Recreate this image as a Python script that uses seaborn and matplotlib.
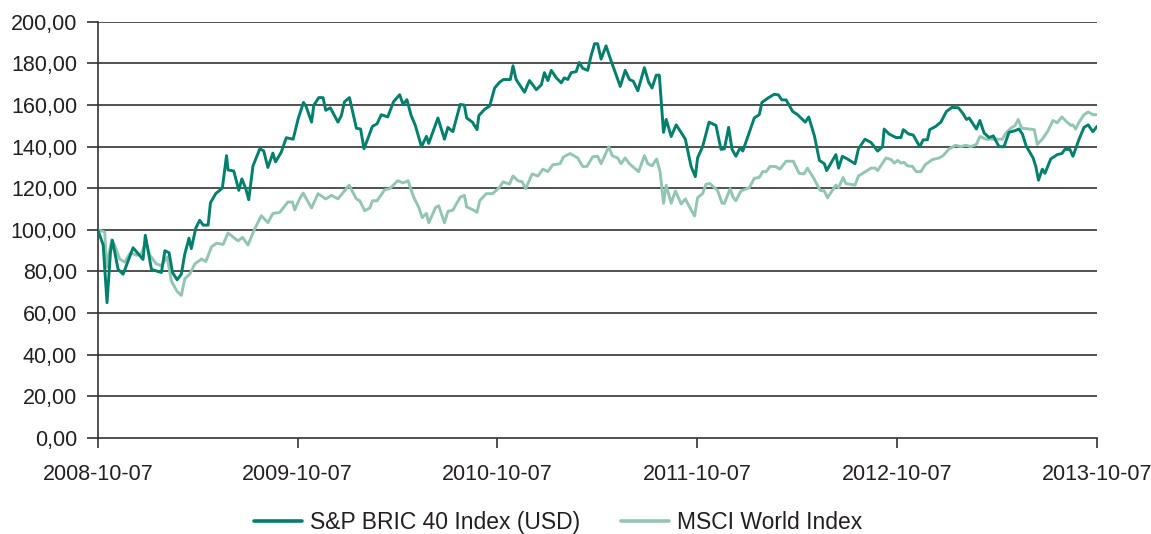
import numpy as np
import pandas as pd
import matplotlib
matplotlib.use("Agg")
import matplotlib.pyplot as plt
import seaborn as sns

START = "2008-10-07"
SERIES_NAMES = ["S&P BRIC 40 Index (USD)", "MSCI World Index"]

# weeks since 2008-10-07, and index values
bric_weeks = [0, 1.4, 2.4, 3.3, 3.8, 5.3, 6.6, 9.2, 11.8, 12.4, 14.0, 16.6, 17.5, 18.6, 19.5,
              20.7, 21.8, 22.7, 23.8, 24.4, 25.6, 26.6, 27.5, 28.8, 29.4, 30.8, 32.5, 33.6,
              34.0, 35.5, 36.8, 37.6, 38.6, 39.4, 40.5, 42.3, 43.3, 44.4, 45.7, 46.4, 47.9,
              49.2, 51.0, 52.3, 53.7, 54.4, 55.8, 56.4, 57.7, 58.8, 59.5, 60.7, 62.7, 63.6,
              64.4, 65.7, 67.5, 68.6, 69.5, 71.7, 72.9, 74.0, 75.7, 77.2, 78.8, 79.7, 80.7,
              81.8, 82.9, 84.5, 85.8, 86.4, 88.8, 90.5, 91.4, 92.7, 94.6, 95.7, 96.3, 97.8,
              99.0, 99.5, 101.0, 102.3, 103.6, 104.9, 105.9, 107.7, 108.4, 109.2, 111.4,
              112.7, 114.5, 115.8, 116.6, 117.5, 118.4, 119.7, 121.0, 121.8, 122.7, 123.6,
              124.9, 125.7, 126.6, 127.9, 128.8, 129.7, 130.5, 131.4, 132.7, 134.0, 134.9,
              136.4, 137.7, 138.8, 139.8, 141.0, 142.7, 143.8, 144.7, 145.8, 146.6, 147.7,
              148.4, 149.7, 151.0, 152.0, 153.4, 154.9, 156.0, 156.6, 157.9, 159.6, 161.4,
              162.7, 163.6, 164.7, 165.6, 166.6, 167.7, 168.4, 170.1, 171.4, 172.7, 173.4,
              174.9, 176.6, 177.7, 178.6, 179.7, 181.4, 182.7, 184.7, 185.6, 187.1, 188.4,
              189.7, 190.3, 192.7, 193.4, 194.4, 195.7, 197.7, 198.6, 200.3, 201.9, 203.6,
              204.9, 205.3, 206.6, 208.4, 209.7, 210.3, 211.7, 212.9, 214.6, 215.5, 216.6,
              217.2, 218.8, 220.1, 221.6, 223.0, 224.7, 225.9, 226.8, 227.5, 229.4, 230.3,
              231.4, 232.7, 233.8, 235.3, 236.6, 237.9, 239.5, 240.5, 241.4, 242.4, 244.2,
              244.9, 245.6, 246.6, 247.3, 248.8, 250.5, 251.7, 252.5, 253.8, 254.6, 256.2,
              257.5, 258.6, 259.8, 260.9]
bric_values = [100, 92.7, 65, 89.4, 95, 81, 78.7, 91.4, 85.8, 97.4, 81, 79.5, 90, 89, 79.5,
               76, 78.7, 88.4, 96, 91, 101, 104.6, 102.3, 102.3, 113, 117.5, 120, 135.7,
               128.8, 128.3, 119, 124.5, 120, 114.5, 130.7, 139, 138, 130, 136.9, 132.7, 137.4,
               144.3, 143.6, 153.4, 161.3, 159.2, 151.8, 160, 163.6, 163.6, 157.5, 158.7, 151.8, 155,
               161.6, 163.6, 148.9, 148.5, 139, 149.8, 151, 155.4, 154.3, 161.6, 165, 160.3, 162.6,
               155, 150.2, 140, 145, 141.6, 153.8, 143.6, 149.3, 147.2, 160.3, 160, 153.8, 151.8,
               148.2, 155, 158, 159.5, 168.2, 171, 172.3, 172.3, 178.9, 172.3, 166.2,
               171.8, 167.4, 169.8, 175.6, 171.8, 176.7, 173.1, 170.7, 173.1, 172.3, 175.6,
               176.1, 180.5, 177.7, 176.7, 183.8, 189.5, 189.5, 182.1, 188.5, 181.3, 176.7,
               169, 176.7, 172.3, 171.5, 166.9, 178, 171.1, 168.2, 174.4, 174.4, 146.9,
               153.1, 144.9, 150.5, 147.7, 143.6, 130.5, 125.6, 134.6, 140, 151.8, 150.2,
               138.7, 139, 149.3, 138.7, 135.4, 139.5, 137.9, 146.9, 153.8, 155.4, 161.3,
               163.3, 165.2, 164.9, 162.5, 162.5, 157, 155.4, 151.8, 154.3, 145.2, 133.4,
               131.8, 128.5, 136.2, 129.7, 135.4, 134.1, 131.8, 139, 143.6, 142, 137.9,
               140, 148.5, 146.1, 144.4, 144.4, 148.2, 146.1, 145.6, 140, 143.3, 143.3,
               148.2, 149.8, 151.8, 157, 158.9, 158.7, 155.9, 153.1, 153.8, 148.5, 152.6,
               146.6, 144.4, 145.2, 140, 140, 146.9, 147.7, 148.5, 146.1, 140.3, 134.6,
               130.5, 123.9, 129.2, 127.2, 134.1, 136.2, 136.7, 138.7, 138.7, 135.4, 143.6,
               149.3, 150.5, 147.2, 149.8]

msci_weeks = [0, 1.8, 2.3, 3.6, 4.4, 5.7, 7.0, 8.5, 10.1, 11.4, 12.5, 13.6, 15.3, 16.6, 18.1,
              19.2, 20.7, 21.8, 22.7, 24.0, 25.3, 27.1, 28.2, 29.7, 31.0, 32.7, 34.0, 36.6,
              37.8, 39.2, 41.0, 42.7, 44.4, 45.7, 47.5, 49.6, 50.8, 51.4, 52.7, 53.6, 55.8,
              57.5, 59.5, 61.0, 62.7, 65.6, 67.5, 68.4, 69.7, 71.0, 71.7, 72.9, 74.9, 76.2,
              78.3, 79.7, 81.0, 82.4, 83.8, 84.7, 85.8, 86.4, 88.2, 89.0, 90.5, 91.4, 92.7,
              94.6, 95.7, 96.3, 98.4, 99.0, 99.7, 101.4, 103.1, 104.9, 105.8, 107.5, 108.4,
              109.7, 110.8, 111.7, 113.4, 114.9, 116.2, 117.5, 118.8, 120.7, 121.6, 123.3,
              125.3, 126.6, 127.7, 129.2, 130.5, 131.4, 133.4, 134.3, 135.7, 136.6, 137.7,
              138.8, 141.2, 142.7, 143.6, 144.7, 145.9, 146.8, 147.7, 148.4, 149.7, 150.8,
              152.3, 153.4, 154.5, 155.8, 156.6, 157.9, 158.8, 159.8, 161.8, 163.0, 163.6,
              165.1, 165.8, 166.6, 167.9, 170.1, 171.4, 172.7, 173.6, 174.5, 175.5, 176.9,
              178.1, 179.7, 181.6, 183.1, 184.4, 185.3, 186.8, 188.6, 189.7, 190.5, 192.7,
              193.4, 194.6, 195.3, 197.7, 198.6, 201.9, 203.0, 203.6, 205.8, 207.1, 208.0,
              208.8, 209.7, 210.5, 211.4, 212.7, 213.7, 214.9, 216.0, 217.9, 219.7, 220.7,
              222.3, 224.0, 225.3, 226.6, 227.9, 229.4, 230.3, 231.9, 234.9, 236.2, 237.1,
              238.4, 239.5, 240.3, 241.2, 244.5, 245.3, 246.6, 248.1, 249.4, 250.5, 251.7,
              252.9, 254.1, 254.6, 255.3, 256.2, 257.5, 258.6, 259.8, 260.9]
msci_values = [100, 99, 82, 95.2, 92.7, 86, 84.5, 89, 87.8, 88.6, 94, 87.8, 83.6, 82.8, 87,
               75.4, 70.4, 68.5, 76.5, 78.7, 83.6, 86, 84.8, 91.9, 93.6, 93, 98.5, 94.7,
               96.4, 92.7, 100.7, 106.8, 103.5, 107.9, 108.4, 113.4, 113.4, 109.6, 115, 117.7, 110.5,
               117.4, 114.9, 116.6, 114.9, 121.5, 114.9, 114, 109.2, 110.5, 114, 114, 119.3, 119.8,
               123.6, 122.6, 123.6, 116, 110.8, 105.9, 107.9, 103.4, 110.8, 111.6, 103.4, 108.9, 109.5,
               115.7, 116.6, 111.1, 109.2, 108.4, 114, 117.4, 117.4, 120.5, 123.1, 122, 125.9,
               123.6, 123.1, 119.8, 126.9, 125.9, 129.2, 128, 131.3, 131.8, 135.1, 136.7,
               134.6, 130.5, 130.5, 135.1, 135.4, 131.8, 140, 135.7, 134.6, 131.8, 134.6,
               131.8, 128, 135.7, 131.8, 130.8, 134.1, 128, 112.8, 121.5, 112.8, 118.7,
               112.5, 114.9, 111, 106.7, 115.5, 117.4, 122, 122.3, 119, 112.8, 112.8,
               119.8, 116, 114, 118.7, 120.3, 124.8, 125.2, 128, 128, 130.5, 130.5,
               129.2, 133, 133, 127.2, 126.9, 129.7, 125.2, 119, 118.7, 115.4, 121.5,
               120.3, 125.2, 122.3, 121.5, 125.9, 129.7, 129.7, 128.5, 134.6, 133.8, 132.1,
               133.4, 132.1, 132.5, 130.8, 130.5, 128, 128, 131.3, 133.8, 134.6, 135.7,
               139, 140.7, 140, 140.7, 140, 141.1, 144.9, 143.6, 143.6, 143.6, 146.6,
               148.9, 150.2, 153.1, 148.9, 148.2, 141.1, 143.6, 147.7, 152.6, 151.5, 154.3,
               152.1, 150.2, 150.5, 148.5, 151.8, 155.4, 156.7, 155.4, 155.4]

y_ticks = [0, 20, 40, 60, 80, 100, 120, 140, 160, 180, 200]
y_tick_labels = ["0,00", "20,00", "40,00", "60,00", "80,00", "100,00", "120,00",
                 "140,00", "160,00", "180,00", "200,00"]
x_tick_labels = ["2008-10-07", "2009-10-07", "2010-10-07", "2011-10-07",
                 "2012-10-07", "2013-10-07"]

DARK = "#00806A"
LIGHT = "#93C5B3"
colors = {SERIES_NAMES[0]: DARK, SERIES_NAMES[1]: LIGHT}

start = pd.Timestamp(START)
def to_dates(weeks):
    return start + pd.to_timedelta(np.array(weeks) * 7.0, unit="D")

df = pd.concat([
    pd.DataFrame({"date": to_dates(bric_weeks), "value": bric_values, "series": SERIES_NAMES[0]}),
    pd.DataFrame({"date": to_dates(msci_weeks), "value": msci_values, "series": SERIES_NAMES[1]}),
], ignore_index=True)

sns.set_theme(style="white")
plt.rcParams["font.family"] = ["Liberation Sans", "DejaVu Sans"]
text_color = "#231F20"

fig = plt.figure(figsize=(11.51, 5.34), dpi=100)
ax = fig.add_axes([0.085, 0.180, 0.868, 0.779])

sns.lineplot(data=df, x="date", y="value", hue="series", hue_order=SERIES_NAMES,
             palette=colors, ax=ax, linewidth=2.1, legend=True, estimator=None,
             sort=False)
for ln in ax.get_lines():
    if matplotlib.colors.to_hex(ln.get_color()).lower() == DARK.lower():
        ln.set_zorder(4)
    else:
        ln.set_zorder(3)

ax.set_xlim(pd.Timestamp(x_tick_labels[0]), pd.Timestamp(x_tick_labels[-1]))
ax.set_ylim(0, 200)
ax.set_yticks(y_ticks)
ax.set_yticklabels(y_tick_labels)
ax.set_xticks([pd.Timestamp(t) for t in x_tick_labels])
ax.set_xticklabels(x_tick_labels)

ax.set_xlabel("")
ax.set_ylabel("")
for yv in y_ticks[1:]:
    ax.axhline(yv, color="#333333", linewidth=1.2, zorder=1)

for side in ["top", "right"]:
    ax.spines[side].set_visible(False)
for side in ["left", "bottom"]:
    ax.spines[side].set_color("#333333")
    ax.spines[side].set_linewidth(1.2)

ax.tick_params(axis="y", direction="out", length=8, width=1.2, color="#333333",
               labelsize=15.5, labelcolor=text_color, pad=7, left=True)
ax.tick_params(axis="x", direction="out", length=7, width=1.2, color="#333333",
               labelsize=15.5, labelcolor=text_color, pad=12, bottom=True)

handles, labels = ax.get_legend_handles_labels()
if ax.legend_:
    ax.legend_.remove()
leg = fig.legend(handles, labels, loc="center", bbox_to_anchor=(0.485, 0.022),
                 ncol=2, frameon=False, fontsize=16.5, handlelength=2.1,
                 columnspacing=1.8, handletextpad=0.35)
for t in leg.get_texts():
    t.set_color(text_color)
for h in leg.legend_handles:
    h.set_linewidth(2.6)

fig.savefig("out.png", dpi=100)
